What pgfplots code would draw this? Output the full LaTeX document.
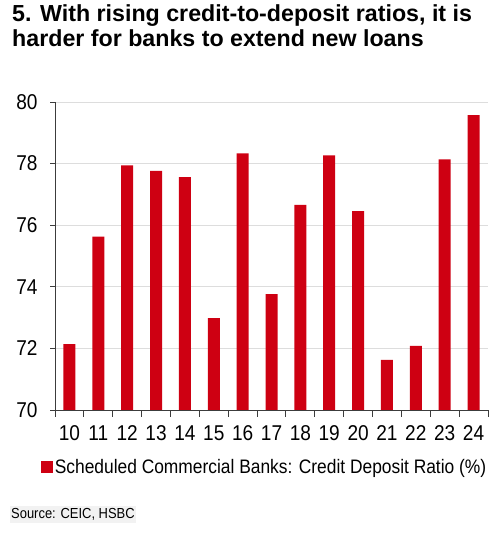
\documentclass[border=0pt]{standalone}
\usepackage{pgfplots}
\pgfplotsset{compat=1.18}
\usepackage{fontspec}
\setmainfont{Liberation Sans}
\newfontfamily\nar[FakeStretch=0.89]{Liberation Sans}
\definecolor{barred}{RGB}{206,0,18}
\definecolor{gridgray}{RGB}{221,221,221}
\definecolor{axgray}{RGB}{60,60,60}
\begin{document}
\begin{tikzpicture}[x=1bp,y=1bp]
\path[use as bounding box] (0,0) rectangle (498,535);
\node[anchor=north west, align=left, inner sep=0pt, font=\fontsize{23.3}{25.3}\selectfont\bfseries] at (12,531)
  {5. With rising credit-to-deposit ratios, it is\\harder for banks to extend new loans};
\begin{axis}[
  at={(55bp,125bp)}, anchor=south west,
  scale only axis, width=433bp, height=308bp,
  xmin=-0.5, xmax=14.5, ymin=70, ymax=80,
  ytick={70,72,...,80},
  xtick={0,...,14},
  xticklabels={10,11,12,13,14,15,16,17,18,19,20,21,22,23,24},
  minor xtick={-0.5,0.5,...,14.5},
  major x tick style={draw=none},
  minor tick length=7bp,
  major tick length=5bp,
  tick align=outside,
  axis x line*=bottom, axis y line*=left,
  axis line style={axgray, line width=0.9pt},
  tick style={axgray, line width=0.9pt},
  ymajorgrids, grid style={gridgray, line width=0.8pt},
  ticklabel style={font=\nar\fontsize{21.5}{21.5}\selectfont},
  /pgf/number format/assume math mode=true,
  xticklabel style={yshift=-7bp},
  yticklabel style={xshift=-9bp},
  ybar, bar width=12bp,
  legend style={at={(0.484,-0.185)}, anchor=center, draw=none, fill=none,
    font=\nar\fontsize{19.6}{19.6}\selectfont, inner sep=0pt},
  legend image code/.code={\fill[barred] (-0.5bp,-6bp) rectangle (11.5bp,6bp);},
]
\addplot[fill=barred, draw=none, bar shift=0pt] coordinates {
(0,72.14) (1,75.63) (2,77.94) (3,77.76) (4,77.56) (5,72.98) (6,78.33) (7,73.76)
(8,76.66) (9,78.27) (10,76.46) (11,71.63) (12,72.08) (13,78.14) (14,79.57)};
\addlegendentry{Scheduled Commercial Banks: Credit Deposit Ratio (\%)}
\end{axis}
\node[anchor=west, fill=black!5, inner xsep=1pt, inner ysep=3pt, font=\nar\fontsize{14.6}{14.6}\selectfont] at (10,20.5) {Source: CEIC, HSBC};
\end{tikzpicture}
\end{document}
